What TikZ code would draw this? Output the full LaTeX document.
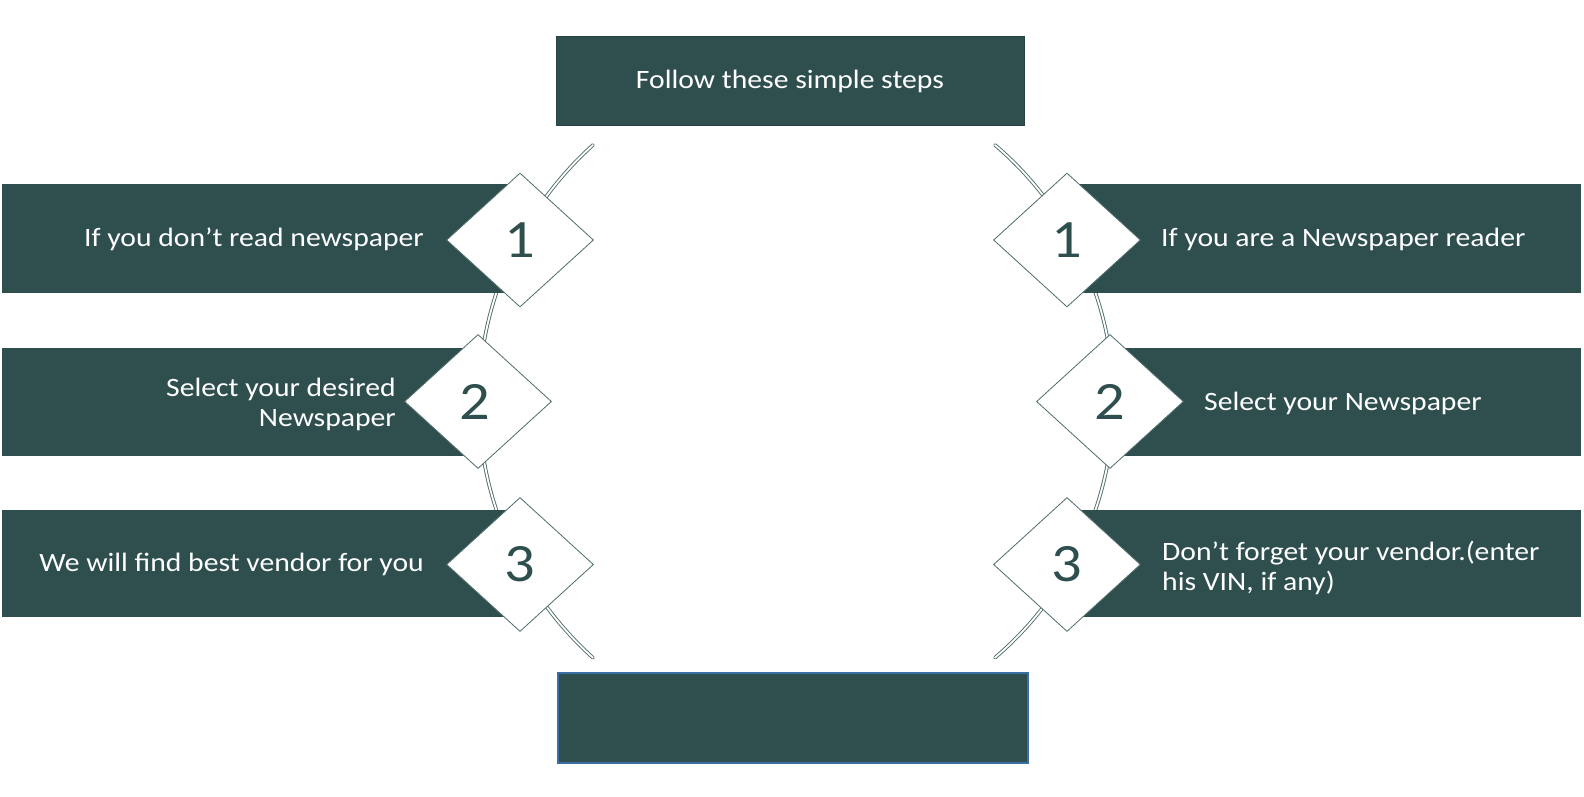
\documentclass[tikz,border=0pt]{standalone}
\usepackage{fontspec}
\setmainfont{Carlito}[FakeStretch=1.12]
\usetikzlibrary{shapes.geometric}
\definecolor{slate}{HTML}{2F4F4F}
\definecolor{arcline}{HTML}{4F6B6B}
\definecolor{boxblue}{HTML}{3A6EA5}
\begin{document}
\begin{tikzpicture}[x=1pt,y=-1pt,
  bar/.style={fill=slate, draw=none, inner sep=0pt, outer sep=0pt, anchor=north west},
  dia/.style={diamond, draw=arcline, fill=white, line width=0.8pt, minimum width=147pt,
    minimum height=134pt, inner sep=0pt, text=slate, font=\fontsize{54}{54}\selectfont},
  lbl/.style={text=white, inner sep=0pt, font=\fontsize{26.5}{30}\selectfont},
  arcs/.style={draw=arcline, line width=0.9pt, double=white, double distance=1.8pt, line cap=round},
  bigbox/.style={fill=slate, inner sep=0pt, minimum width=468pt, minimum height=89pt}
]
\useasboundingbox (0,0) rectangle (1584,796);

% arcs
\coordinate (la) at (593,145);
\coordinate (ra) at (995,145);
\draw[arcs] (la) arc[start angle=228, end angle=132, radius=345];
\draw[arcs] (ra) arc[start angle=-49.6, end angle=49.6, radius=336.6];

% bars
\node[bar, minimum width=518pt, minimum height=109pt] (lb1) at (2,184) {};
\node[bar, minimum width=476pt, minimum height=108pt] (lb2) at (2,348) {};
\node[bar, minimum width=518pt, minimum height=107pt] (lb3) at (2,510) {};
\node[bar, minimum width=514pt, minimum height=109pt] (rb1) at (1067,184) {};
\node[bar, minimum width=471pt, minimum height=108pt] (rb2) at (1110,348) {};
\node[bar, minimum width=514pt, minimum height=107pt] (rb3) at (1067,510) {};

% diamonds
\node[dia] (ld1) at (520,240) {1};
\node[dia] (ld2) at (478,401.5) {\hspace*{-6pt}2};
\node[dia] (ld3) at (520,564.5) {3};
\node[dia] (rd1) at (1067,240) {1};
\node[dia] (rd2) at (1110,401.5) {2};
\node[dia] (rd3) at (1067,564.5) {3};

% top and bottom boxes
\node[bigbox, draw=slate!85!black, line width=0.8pt] (top) at (790,80.5) {};
\node[lbl, anchor=base] (toptext) at (790,88.5) {Follow these simple steps};
\node[bigbox, draw=boxblue, line width=1.6pt, minimum width=470pt, minimum height=90pt] (bottom) at (793,718) {};

% labels
\node[lbl, anchor=base east] (lt1) at (424,246) {If you don’t read newspaper};
\node[lbl, anchor=east, align=right] (lt2) at (396,404) {Select your desired\\Newspaper};
\node[lbl, anchor=base east] (lt3) at (424,571) {We will find best vendor for you};
\node[lbl, anchor=base west] (rt1) at (1161,246) {If you are a Newspaper reader};
\node[lbl, anchor=base west] (rt2) at (1204,410) {Select your Newspaper};
\node[lbl, anchor=west, align=left] (rt3) at (1162,568) {Don’t forget your vendor.(enter\\his VIN, if any)};
\end{tikzpicture}
\end{document}
